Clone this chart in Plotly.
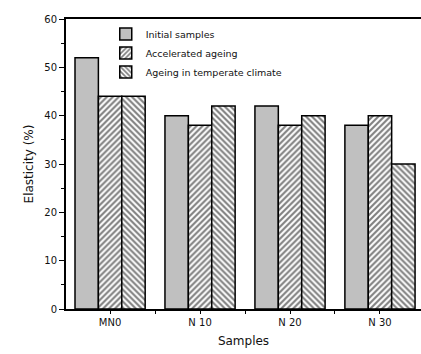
import plotly.graph_objects as go

# Sample groups and elasticity (%) per treatment
samples = ["MN0", "N 10", "N 20", "N 30"]
initial = [52, 40, 42, 38]
accelerated = [44, 38, 38, 40]
temperate = [44, 42, 40, 30]

series_names = ["Initial samples", "Accelerated ageing", "Ageing in temperate climate"]

xpos = list(range(len(samples)))
font_family = "DejaVu Sans, Verdana, sans-serif"
edge = dict(color="black", width=1.5)

fig = go.Figure()
fig.add_trace(go.Bar(
    x=xpos, y=initial, name=series_names[0],
    marker=dict(color="#c0c0c0", line=edge),
))
fig.add_trace(go.Bar(
    x=xpos, y=accelerated, name=series_names[1],
    marker=dict(color="white", line=edge,
                pattern=dict(shape="/", size=4.2, solidity=0.5,
                             fgcolor="black", bgcolor="white")),
))
fig.add_trace(go.Bar(
    x=xpos, y=temperate, name=series_names[2],
    marker=dict(color="white", line=edge,
                pattern=dict(shape="\\", size=4.2, solidity=0.5,
                             fgcolor="black", bgcolor="white")),
))

fig.update_layout(
    width=421, height=354,
    margin=dict(l=66, r=0, t=19, b=45),
    paper_bgcolor="white", plot_bgcolor="white",
    barmode="group", bargap=0.22, bargroupgap=0,
    font=dict(family=font_family, size=10, color="#111"),
    legend=dict(x=0.112, y=0.998, xanchor="left", yanchor="top",
                bgcolor="rgba(0,0,0,0)", font=dict(size=9.5),
                tracegroupgap=0, itemwidth=30),
    xaxis=dict(
        range=[-0.49, 3.456],
        tickmode="array", tickvals=xpos, ticktext=samples,
        showline=True, linecolor="black", linewidth=2, mirror=True,
        ticks="outside", ticklen=3, tickcolor="black", tickwidth=1,
        minor=dict(tickvals=[0.5, 1.5, 2.5], ticks="outside", ticklen=3,
                   tickcolor="black"),
        showgrid=False, zeroline=False,
        title=dict(text="Samples", font=dict(size=12), standoff=10),
    ),
    yaxis=dict(
        range=[0, 60], dtick=10,
        showline=True, linecolor="black", linewidth=2,
        ticks="outside", ticklen=5, tickcolor="black", tickwidth=1,
        minor=dict(dtick=5, ticks="outside", ticklen=3, tickcolor="black"),
        showgrid=False, zeroline=False,
        title=dict(text="Elasticity (%)", font=dict(size=12), standoff=8),
    ),
)

fig.write_html("out.html")
